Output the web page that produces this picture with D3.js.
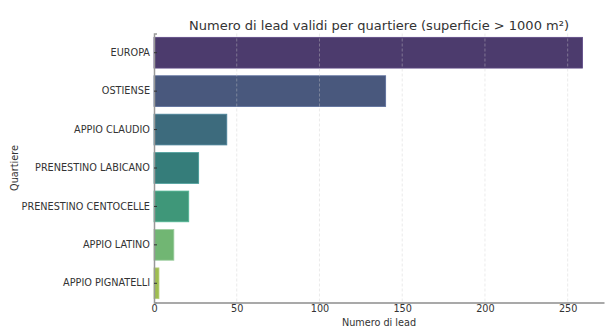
<!DOCTYPE html>
<html><head><meta charset="utf-8">
<script src="https://cdn.jsdelivr.net/npm/d3@7"></script>
<style>body{margin:0;background:#fff}svg{display:block;font-family:"DejaVu Sans",sans-serif}</style>
</head><body><svg id="c" width="607" height="326"></svg>
<script>
const categories = ["EUROPA","OSTIENSE","APPIO CLAUDIO","PRENESTINO LABICANO","PRENESTINO CENTOCELLE","APPIO LATINO","APPIO PIGNATELLI"];
const leads = [259,140,44,27,21,12,3];
const xTicks = [0,50,100,150,200,250];
const title = "Numero di lead validi per quartiere (superficie > 1000 m²)";
const xLabel = "Numero di lead";
const yLabel = "Quartiere";

const svg = d3.select("#c");
const L = 154, R = 604, T = 33.5, B = 302.5;
const x = d3.scaleLinear().domain([0, d3.max(leads) * 1.05]).range([L, R]);
const y = d3.scaleBand().domain(categories).range([T, B]).paddingInner(0.2).paddingOuter(0.1);
const color = (i) => { const c = d3.hsl(d3.interpolateViridis((i + 1) / (categories.length + 1))); c.s *= 0.65; return c.formatHex(); };

svg.selectAll("rect.bar").data(categories).join("rect").attr("class","bar")
  .attr("x", x(0)).attr("y", d => y(d))
  .attr("width", (d,i) => x(leads[i]) - x(0)).attr("height", y.bandwidth())
  .attr("fill", (d,i) => color(i))
  .attr("stroke", (d,i) => d3.hsl(color(i)).brighter(0.6).formatHex()).attr("stroke-width", 0.8);

// grid (drawn on top)
svg.append("g").selectAll("line").data(xTicks.filter(t => t > 0)).join("line")
  .attr("x1", d => x(d)).attr("x2", d => x(d)).attr("y1", T).attr("y2", B)
  .attr("stroke", "#cccccc").attr("stroke-opacity", 0.5).attr("stroke-width", 0.8).attr("stroke-dasharray", "3,2");

// x axis
const xa = svg.append("g").attr("transform", `translate(0,${B})`)
  .call(d3.axisBottom(x).tickValues(xTicks).tickSize(0).tickPadding(3));
xa.select(".domain").attr("stroke", "#555").attr("stroke-width", 1.2);
xa.selectAll("text").attr("font-size", 9.7).attr("fill", "#333").attr("font-family", "DejaVu Sans");

// y axis
const ya = svg.append("g").attr("transform", `translate(${L},0)`)
  .call(d3.axisLeft(y).tickSize(-3).tickPadding(4));
ya.select(".domain").attr("stroke", "#999").attr("stroke-width", 1.5);
ya.selectAll(".tick line").attr("stroke", "#333");
ya.selectAll("text").attr("font-size", 9.7).attr("fill", "#333").attr("font-family", "DejaVu Sans").attr("x", -4);

svg.append("text").attr("x", (L + R) / 2).attr("y", 29.5).attr("text-anchor", "middle")
  .attr("font-size", 13).attr("fill", "#333").text(title);
svg.append("text").attr("x", (L + R) / 2).attr("y", 325.5).attr("text-anchor", "middle")
  .attr("font-size", 9.7).attr("fill", "#333").text(xLabel);
svg.append("text").attr("transform", `translate(18,${(T + B) / 2}) rotate(-90)`).attr("text-anchor", "middle")
  .attr("font-size", 9.7).attr("fill", "#333").text(yLabel);
</script></body></html>
